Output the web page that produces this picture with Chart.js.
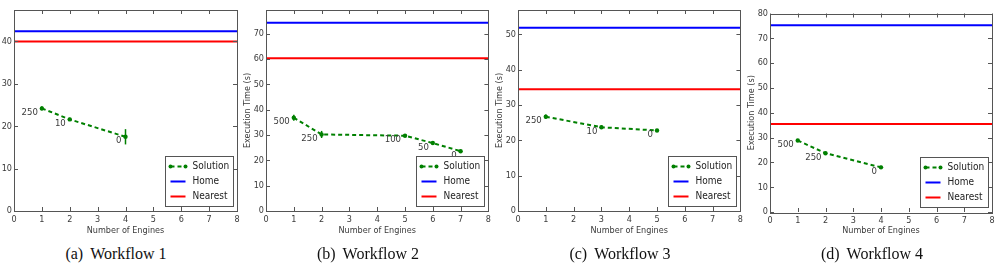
<!DOCTYPE html>
<html lang="en">
<head>
<meta charset="UTF-8">
<title>Execution time vs number of engines</title>
<script src="https://cdn.jsdelivr.net/npm/chart.js"></script>
<style>
  body { margin: 0; background: #fff; }
  .wrap { position: relative; width: 1002px; height: 264px; overflow: hidden; }
  .wrap canvas { position: absolute; top: 0; }
  .caption {
    position: absolute; top: 245px; line-height: 18px;
    font-family: "Liberation Serif", "Times New Roman", serif;
    font-size: 16px; color: #111; white-space: nowrap;
    transform: translateX(-50%);
  }
  .caption span { margin-right: 7px; }
</style>
</head>
<body>
<div class="wrap">
  <canvas id="c1" width="244" height="240" style="left:0px"></canvas>
  <canvas id="c2" width="256" height="240" style="left:238px"></canvas>
  <canvas id="c3" width="256" height="240" style="left:490px"></canvas>
  <canvas id="c4" width="260" height="240" style="left:742px"></canvas>
  <div class="caption" style="left:116px"><span>(a)</span>Workflow 1</div>
  <div class="caption" style="left:368px"><span>(b)</span>Workflow 2</div>
  <div class="caption" style="left:620px"><span>(c)</span>Workflow 3</div>
  <div class="caption" style="left:872px"><span>(d)</span>Workflow 4</div>
</div>

<script>
// values
const engines1 = [1, 2, 4];
const times1 = [24.2, 21.6, 17.5];
const errs1 = [0.5, 0.4, 1.8];
const budgets1 = ['250', '10', '0'];
const home1 = 42.4, nearest1 = 40.0, yMax1 = 47.4;

const engines2 = [1, 2, 5, 6, 7];
const times2 = [36.8, 30.2, 29.7, 26.8, 23.6];
const errs2 = [1.2, 1.4, 0.5, 0.5, 0.6];
const budgets2 = ['500', '250', '100', '50', '0'];
const home2 = 74.3, nearest2 = 60.3, yMax2 = 79.3;

const engines3 = [1, 3, 5];
const times3 = [26.7, 23.7, 22.8];
const errs3 = [0.6, 0.5, 0.4];
const budgets3 = ['250', '10', '0'];
const home3 = 51.9, nearest3 = 34.5, yMax3 = 56.9;

const engines4 = [1, 2, 4];
const times4 = [28.8, 23.7, 18.0];
const errs4 = [0.6, 0.6, 0.6];
const budgets4 = ['500', '250', '0'];
const home4 = 75.3, nearest4 = 35.5, yMax4 = 80;

const xTicks = [0, 1, 2, 3, 4, 5, 6, 7, 8];

const GREEN = '#008000', BLUE = '#0000ff', RED = '#ff0000';
const SANS = "'DejaVu Sans Condensed', 'DejaVu Sans', sans-serif";
const TEXT = '#3a3a3a';

Chart.defaults.font.family = SANS;
Chart.defaults.color = TEXT;

// frame + inward tick marks on all four sides (matplotlib style)
const framePlugin = {
  id: 'frame',
  afterDraw(chart) {
    const { ctx, chartArea: a, scales } = chart;
    ctx.save();
    ctx.strokeStyle = '#555';
    ctx.lineWidth = 1;
    ctx.strokeRect(Math.round(a.left) + 0.5, Math.round(a.top) + 0.5,
      Math.round(a.right - a.left), Math.round(a.bottom - a.top));
    ctx.beginPath();
    scales.x.ticks.forEach(t => {
      const px = Math.round(scales.x.getPixelForValue(t.value)) + 0.5;
      ctx.moveTo(px, a.bottom); ctx.lineTo(px, a.bottom - 4);
      ctx.moveTo(px, a.top); ctx.lineTo(px, a.top + 4);
    });
    scales.y.ticks.forEach(t => {
      const py = Math.round(scales.y.getPixelForValue(t.value)) + 0.5;
      ctx.moveTo(a.left, py); ctx.lineTo(a.left + 4, py);
      ctx.moveTo(a.right, py); ctx.lineTo(a.right - 4, py);
    });
    ctx.stroke();
    ctx.restore();
  }
};

// error bars and budget labels for the Solution series
const solutionExtras = {
  id: 'solutionExtras',
  afterDatasetsDraw(chart) {
    const ds = chart.data.datasets[0];
    const { ctx, scales: { x, y } } = chart;
    ctx.save();
    ctx.strokeStyle = ds.borderColor;
    ctx.lineWidth = 1.5;
    ds.data.forEach((p, i) => {
      const px = x.getPixelForValue(p.x);
      ctx.beginPath();
      ctx.moveTo(px, y.getPixelForValue(p.y - ds.errorBars[i]));
      ctx.lineTo(px, y.getPixelForValue(p.y + ds.errorBars[i]));
      ctx.stroke();
    });
    ctx.fillStyle = TEXT;
    ctx.font = '9.5px ' + SANS;
    ctx.textAlign = 'right';
    ctx.textBaseline = 'middle';
    ds.data.forEach((p, i) => {
      ctx.fillText(ds.pointLabels[i], x.getPixelForValue(p.x) - 4, y.getPixelForValue(p.y) + 4);
    });
    ctx.restore();
  }
};

// legend box in the lower right corner of the plot
const boxLegend = {
  id: 'boxLegend',
  afterDraw(chart) {
    const { ctx, chartArea: a } = chart;
    const w = 68, h = 50;
    const left = Math.round(a.right - 4 - w) + 0.5;
    const top = Math.round(a.bottom - 5 - h) + 0.5;
    ctx.save();
    ctx.fillStyle = '#fff';
    ctx.fillRect(left, top, w, h);
    ctx.strokeStyle = '#555';
    ctx.lineWidth = 1;
    ctx.strokeRect(left, top, w, h);
    ctx.font = '10px ' + SANS;
    ctx.textBaseline = 'middle';
    chart.data.datasets.forEach((ds, i) => {
      const yy = top + 10 + i * 15;
      ctx.strokeStyle = ds.borderColor;
      ctx.lineWidth = 2;
      ctx.setLineDash(ds.borderDash || []);
      ctx.beginPath();
      ctx.moveTo(left + 5, yy);
      ctx.lineTo(left + 20, yy);
      ctx.stroke();
      ctx.setLineDash([]);
      if (ds.pointRadius > 0) {
        ctx.fillStyle = ds.borderColor;
        [left + 5, left + 20].forEach(px => {
          ctx.beginPath();
          ctx.arc(px, yy, 2, 0, Math.PI * 2);
          ctx.fill();
        });
      }
      ctx.fillStyle = '#222';
      ctx.fillText(ds.label, left + 27, yy);
    });
    ctx.restore();
  }
};

function makeChart(id, engines, times, errs, budgets, home, nearest, yMax, cfg) {
  const solution = engines.map((e, i) => ({ x: e, y: times[i] }));
  return new Chart(document.getElementById(id), {
    type: 'line',
    data: {
      datasets: [
        {
          label: 'Solution', data: solution, borderColor: GREEN, backgroundColor: GREEN,
          borderWidth: 2, borderDash: [4, 3], pointRadius: 2.2, pointBorderWidth: 0,
          errorBars: errs, pointLabels: budgets
        },
        {
          label: 'Home', data: [{ x: 0, y: home }, { x: 8, y: home }],
          borderColor: BLUE, borderWidth: 2, pointRadius: 0
        },
        {
          label: 'Nearest', data: [{ x: 0, y: nearest }, { x: 8, y: nearest }],
          borderColor: RED, borderWidth: 2, pointRadius: 0
        }
      ]
    },
    options: {
      responsive: false,
      animation: false,
      devicePixelRatio: 1,
      layout: { padding: { top: cfg.top, right: cfg.right, left: 0, bottom: 0 } },
      plugins: { legend: { display: false }, tooltip: { enabled: false } },
      scales: {
        x: {
          type: 'linear', min: 0, max: 8,
          grid: { display: false, drawTicks: false },
          border: { display: false },
          afterBuildTicks: s => { s.ticks = xTicks.map(v => ({ value: v })); },
          afterFit: s => { s.height = cfg.xh; },
          ticks: { padding: 3, font: { size: 9 }, color: TEXT, maxRotation: 0 },
          title: { display: true, text: 'Number of Engines', font: { size: 9 }, color: TEXT,
                   padding: { top: 0, bottom: 4 } }
        },
        y: {
          type: 'linear', min: 0, max: yMax,
          grid: { display: false, drawTicks: false },
          border: { display: false },
          afterBuildTicks: s => { s.ticks = s.ticks.filter(t => t.value % 10 === 0); },
          afterFit: s => { s.width = cfg.yw; },
          ticks: { stepSize: 10, padding: 2, font: { size: 9 }, color: TEXT },
          title: { display: cfg.yTitle, text: 'Execution Time (s)', font: { size: 9 }, color: TEXT,
                   padding: { top: 4, bottom: 0 } }
        }
      }
    },
    plugins: [framePlugin, solutionExtras, boxLegend]
  });
}

makeChart('c1', engines1, times1, errs1, budgets1, home1, nearest1, yMax1,
  { top: 10, right: 7, yw: 14, xh: 29, yTitle: false });
makeChart('c2', engines2, times2, errs2, budgets2, home2, nearest2, yMax2,
  { top: 10, right: 5, yw: 28, xh: 29, yTitle: true });
makeChart('c3', engines3, times3, errs3, budgets3, home3, nearest3, yMax3,
  { top: 10, right: 5, yw: 28, xh: 29, yTitle: true });
makeChart('c4', engines4, times4, errs4, budgets4, home4, nearest4, yMax4,
  { top: 13.5, right: 10, yw: 28, xh: 28, yTitle: true });
</script>
</body>
</html>
